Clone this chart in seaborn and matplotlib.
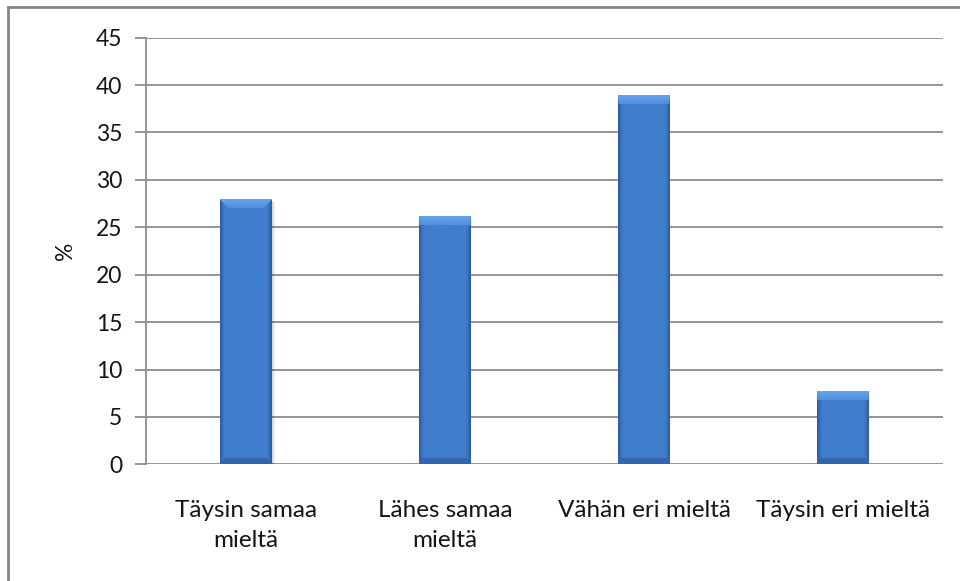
import numpy as np
import pandas as pd
import matplotlib
matplotlib.use("Agg")
import matplotlib.pyplot as plt
from matplotlib.patches import Rectangle
import seaborn as sns

# Survey answers and their shares (%)
categories = ["Täysin samaa\nmieltä", "Lähes samaa\nmieltä", "Vähän eri mieltä", "Täysin eri mieltä"]
values = [27.9, 26.1, 38.9, 7.6]
y_ticks = [0, 5, 10, 15, 20, 25, 30, 35, 40, 45]

sns.set_theme(style="white")
plt.rcParams["font.family"] = ["Lato", "DejaVu Sans"]

df = pd.DataFrame({"category": categories, "value": values})

fig = plt.figure(figsize=(9.6, 5.81), dpi=100)
ax = fig.add_axes([146 / 960, 1 - 464.3 / 581, (943 - 146) / 960, (464.3 - 37.7) / 581])

sns.barplot(data=df, x="category", y="value", ax=ax, width=0.26,
            color="#3F7AC8", saturation=1, edgecolor="none", zorder=3)

grid_col = "#8C8C8C"
text_col = "#151515"
ax.set_ylim(0, 45)
ax.set_yticks(y_ticks)
ax.yaxis.grid(True, color=grid_col, linewidth=1.3, zorder=0)
ax.set_axisbelow(True)
for side in ["top", "right", "bottom"]:
    ax.spines[side].set_visible(False)
ax.spines["left"].set_color(grid_col)
ax.spines["left"].set_linewidth(1.3)
ax.tick_params(axis="y", which="both", left=True, length=8, width=1.3, color=grid_col,
               labelsize=16.5, labelcolor=text_col, pad=9)
ax.tick_params(axis="x", bottom=False, labelsize=17.5, labelcolor=text_col, pad=20)
for lbl in ax.get_xticklabels():
    lbl.set_linespacing(1.5)
    lbl.set_verticalalignment("top")
ax.set_xlabel("")
ax.set_ylabel("%", fontsize=16.5, color=text_col, labelpad=14)

# Bevelled gradient fill over each bar
fig.canvas.draw()
dark = np.array([0x28, 0x55, 0x92]) / 255
mid = np.array([0x41, 0x7E, 0xCE]) / 255
light = np.array([0x63, 0xA2, 0xEC]) / 255
bottom_dark = np.array([0x33, 0x66, 0xAE]) / 255
for patch in ax.patches:
    x0, w, h = patch.get_x(), patch.get_width(), patch.get_height()
    p0 = ax.transData.transform((x0, 0))
    p1 = ax.transData.transform((x0 + w, h))
    wpx = max(int(round(p1[0] - p0[0])), 2)
    hpx = max(int(round(p1[1] - p0[1])), 2)
    xs = (np.arange(wpx) + 0.5) / wpx
    prof = 1 - np.abs(xs - 0.5) * 2
    prof = np.clip(prof * 5, 0, 1) ** 0.7
    img = np.zeros((hpx, wpx, 3))
    for c in range(3):
        img[:, :, c] = dark[c] + (mid[c] - dark[c]) * prof[None, :]
    bev = 9
    for r in range(hpx):
        for cidx in range(wpx):
            dtop = r
            dbot = hpx - 1 - r
            dside = min(cidx, wpx - 1 - cidx)
            if dtop < bev and dtop <= dside:
                t = 1 - dtop / bev
                img[r, cidx] = mid + (light - mid) * (0.45 + 0.55 * t)
            elif dbot < 6 and dbot <= dside:
                img[r, cidx] = bottom_dark
    # soft drop shadow on the right and bottom
    px_w = w / wpx
    for k, a in zip([1, 2, 3, 4], [0.07, 0.05, 0.035, 0.02]):
        ax.add_patch(Rectangle((x0 + k * px_w, 0), w, h - k * 0.08, facecolor="#000000",
                               alpha=a, edgecolor="none", zorder=2.5))
    ax.imshow(img, extent=(x0, x0 + w, 0, h), aspect="auto", zorder=4,
              interpolation="bilinear")

ax.set_xlim(-0.5, len(categories) - 0.5)
ax.set_ylim(0, 45)

# Outer chart frame
fig.patches.append(Rectangle((8 / 960, -0.1), 1.2, 1 - 7 / 581 + 0.1,
                             transform=fig.transFigure, fill=False,
                             edgecolor="#868686", linewidth=2))

fig.savefig("out.png", dpi=100)
